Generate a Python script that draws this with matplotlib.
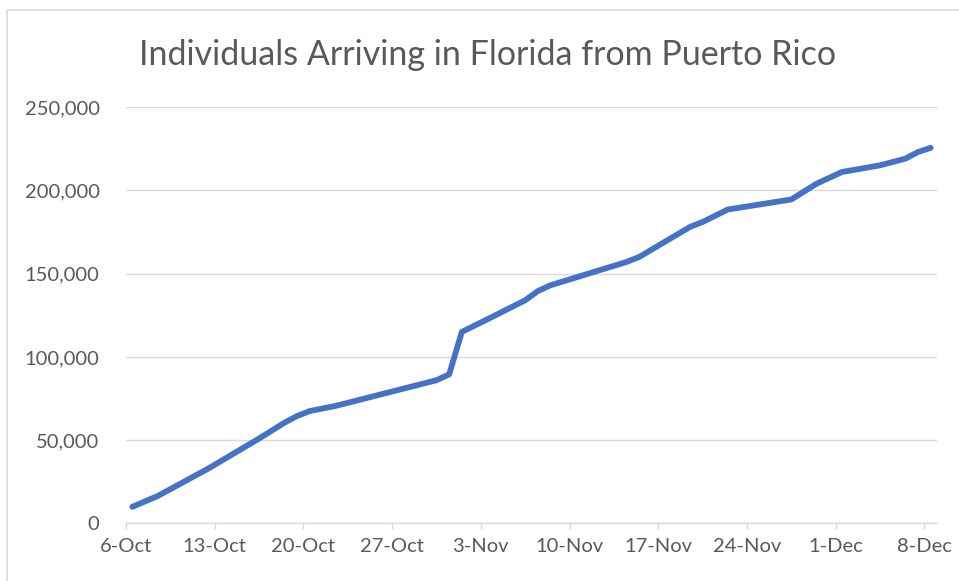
import matplotlib
matplotlib.use("Agg")
import matplotlib.pyplot as plt
from matplotlib.lines import Line2D
from matplotlib.ticker import FuncFormatter
import pandas as pd

# values (date, cumulative arrivals)
dates = ["2017-10-06", "2017-10-08", "2017-10-12", "2017-10-13", "2017-10-16",
         "2017-10-18", "2017-10-19", "2017-10-20", "2017-10-22", "2017-10-30",
         "2017-10-31", "2017-11-01", "2017-11-03", "2017-11-06", "2017-11-07",
         "2017-11-08", "2017-11-11", "2017-11-14", "2017-11-15", "2017-11-16",
         "2017-11-19", "2017-11-20", "2017-11-22", "2017-11-27", "2017-11-29",
         "2017-12-01", "2017-12-04", "2017-12-06", "2017-12-07", "2017-12-08"]
arrivals = [10000, 16500, 33000, 37500, 51000,
            60500, 64500, 67500, 70500, 86000,
            89500, 115000, 122500, 134000, 139500,
            143000, 150000, 157000, 160000, 164500,
            178000, 181000, 188500, 194500, 204000,
            211000, 215000, 219000, 223000, 225500]
tick_dates = ["2017-10-06", "2017-10-13", "2017-10-20", "2017-10-27", "2017-11-03",
              "2017-11-10", "2017-11-17", "2017-11-24", "2017-12-01", "2017-12-08"]
tick_labels = ["6-Oct", "13-Oct", "20-Oct", "27-Oct", "3-Nov",
               "10-Nov", "17-Nov", "24-Nov", "1-Dec", "8-Dec"]
yticks = [0, 50000, 100000, 150000, 200000, 250000]
title = "Individuals Arriving in Florida from Puerto Rico"

plt.rcParams['font.family'] = ['Lato', 'DejaVu Sans']
grey_text = "#595959"
grid_col = "#D9D9D9"

fig = plt.figure(figsize=(9.59, 5.81), dpi=100)
ax = fig.add_axes([0.1314, 0.099, 0.8457, 0.7168])

# Excel puts each daily point in the middle of its day slot
x = pd.to_datetime(dates) + pd.Timedelta(hours=12)
ax.plot(x, arrivals, color="#4472C4", linewidth=4.2,
        solid_capstyle="round", solid_joinstyle="round", zorder=3)

ax.set_xlim(pd.Timestamp("2017-10-06"), pd.Timestamp("2017-12-09"))
ax.set_ylim(0, 250000)
ax.set_yticks(yticks)
ax.yaxis.set_major_formatter(FuncFormatter(lambda v, p: f"{int(v):,}"))
ax.set_xticks(pd.to_datetime(tick_dates))
ax.set_xticklabels(tick_labels)

ax.grid(axis="y", color=grid_col, linewidth=1.0, zorder=0)
for s in ["top", "right", "left"]:
    ax.spines[s].set_visible(False)
ax.spines["bottom"].set_color(grid_col)
ax.spines["bottom"].set_linewidth(1.0)
ax.tick_params(axis="y", length=0, pad=19, labelsize=14.5, labelcolor=grey_text)
ax.tick_params(axis="x", length=4, width=1.0, color=grid_col, pad=6.5,
               labelsize=14.5, labelcolor=grey_text)

fig.text(487 / 959, 1 - 55 / 581, title, ha="center", va="center",
         fontsize=24.5, color=grey_text)

# chart area border (top and left visible in the screenshot)
fig.add_artist(Line2D([7 / 959, 1.0], [1 - 10 / 581, 1 - 10 / 581],
                      transform=fig.transFigure, color=grid_col, linewidth=1.2))
fig.add_artist(Line2D([7 / 959, 7 / 959], [0.0, 1 - 10 / 581],
                      transform=fig.transFigure, color=grid_col, linewidth=1.2))

fig.savefig("out.png", dpi=100)
